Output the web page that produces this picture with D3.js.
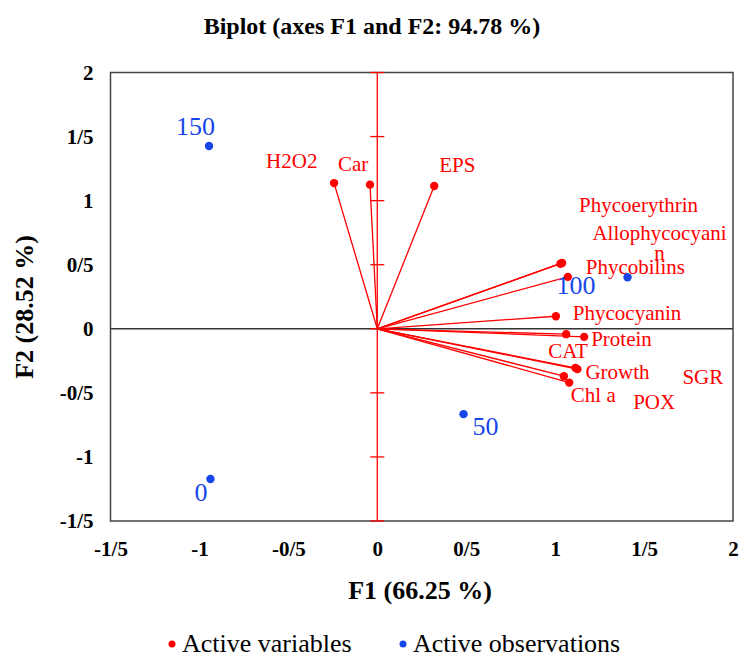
<!DOCTYPE html>
<html>
<head>
<meta charset="utf-8">
<script src="https://cdn.jsdelivr.net/npm/d3@7"></script>
<style>
  body { margin: 0; background: #fff; }
  svg { font-family: "Liberation Serif", "Times New Roman", serif; }
</style>
</head>
<body>
<svg width="739" height="658"></svg>
<script>
// variables (red) : F1 / F2 coordinates
const varNames = ["H2O2", "Car", "EPS", "Phycoerythrin", "Allophycocyanin", "Phycobilins",
  "Phycocyanin", "CAT", "Protein", "Growth", "SGR", "Chl a", "POX"];
const varF1 = [-0.243, -0.041, 0.320, 1.039, 1.030, 1.071, 1.004, 1.062, 1.163, 1.114, 1.125, 1.049, 1.079];
const varF2 = [1.137, 1.125, 1.114, 0.514, 0.508, 0.405, 0.098, -0.042, -0.063, -0.305, -0.315, -0.370, -0.420];

// observations (blue)
const obsNames = ["0", "50", "100", "150"];
const obsF1 = [-0.938, 0.485, 1.407, -0.946];
const obsF2 = [-1.172, -0.666, 0.402, 1.426];

// ticks
const tickValues = [-1.5, -1, -0.5, 0, 0.5, 1, 1.5, 2];
const tickLabels = ["-1/5", "-1", "-0/5", "0", "0/5", "1", "1/5", "2"];

// label placement (pixel offsets from the point, like the original layout)
const varLabelOffsets = [[-68, -15], [-32, -14], [5, -14], [17, -51], [32, -24], [18, -3],
  [17, 4], [-18, 24], [7, 9], [10, 11], [105, 15], [7, 26], [64, 26]];
const obsLabelOffsets = [[-16, 22], [9, 21], [-71, 17], [-33, -11]];

const svg = d3.select("svg");
const plotL = 110.5, plotR = 733, plotT = 72.5, plotB = 521;

const x = d3.scaleLinear().domain([-1.5, 2]).range([plotL, plotR]);
const y = d3.scaleLinear().domain([-1.5, 2]).range([plotB, plotT]);
const red = "#ff0000", blue = "#1746e8";

// title
svg.append("text")
  .attr("x", 372).attr("y", 34)
  .attr("text-anchor", "middle")
  .attr("font-size", 24).attr("font-weight", "bold")
  .text("Biplot (axes F1 and F2: 94.78 %)");

// frame
svg.append("rect")
  .attr("x", plotL).attr("y", plotT)
  .attr("width", plotR - plotL).attr("height", plotB - plotT)
  .attr("fill", "none").attr("stroke", "#444").attr("stroke-width", 1.5);

// tick labels on the frame
svg.append("g")
  .attr("transform", "translate(0," + plotB + ")")
  .call(d3.axisBottom(x).tickValues(tickValues).tickFormat((d, i) => tickLabels[i]).tickSize(0).tickPadding(20))
  .call(g => g.select(".domain").remove())
  .selectAll("text")
  .attr("font-family", "Liberation Serif").attr("font-size", 21).attr("font-weight", "bold").attr("fill", "#000");

svg.append("g")
  .attr("transform", "translate(" + plotL + ",0)")
  .call(d3.axisLeft(y).tickValues(tickValues).tickFormat((d, i) => tickLabels[i]).tickSize(0).tickPadding(17))
  .call(g => g.select(".domain").remove())
  .selectAll("text")
  .attr("font-family", "Liberation Serif").attr("font-size", 21).attr("font-weight", "bold").attr("fill", "#000");

// horizontal axis through origin
svg.append("line")
  .attr("x1", plotL).attr("x2", plotR)
  .attr("y1", y(0)).attr("y2", y(0))
  .attr("stroke", "#333").attr("stroke-width", 1.5);

// vertical red axis through origin with ticks
svg.append("line")
  .attr("x1", x(0)).attr("x2", x(0))
  .attr("y1", plotT).attr("y2", plotB)
  .attr("stroke", red).attr("stroke-width", 1.3);
svg.append("g").selectAll("line")
  .data(tickValues)
  .join("line")
  .attr("x1", x(0) - 7).attr("x2", x(0) + 7)
  .attr("y1", d => y(d)).attr("y2", d => y(d))
  .attr("stroke", red).attr("stroke-width", 1.3);

// variable vectors
const vars = varNames.map((n, i) => ({ name: n, f1: varF1[i], f2: varF2[i], off: varLabelOffsets[i] }));

svg.append("g").selectAll("line")
  .data(vars)
  .join("line")
  .attr("x1", x(0)).attr("y1", y(0))
  .attr("x2", d => x(d.f1)).attr("y2", d => y(d.f2))
  .attr("stroke", red).attr("stroke-width", 1.3);

svg.append("g").selectAll("circle")
  .data(vars)
  .join("circle")
  .attr("cx", d => x(d.f1)).attr("cy", d => y(d.f2))
  .attr("r", 4.2).attr("fill", red);

const varText = svg.append("g").selectAll("text")
  .data(vars)
  .join("text")
  .attr("x", d => x(d.f1) + d.off[0]).attr("y", d => y(d.f2) + d.off[1])
  .attr("font-size", 21).attr("fill", red);

// long label wraps like the original
varText.each(function (d) {
  const t = d3.select(this);
  if (d.name === "Allophycocyanin") {
    const cx = x(d.f1) + d.off[0] + 67;
    t.attr("text-anchor", "middle");
    t.append("tspan").attr("x", cx).text("Allophycocyani");
    t.append("tspan").attr("x", cx).attr("dy", 20).text("n");
  } else {
    t.text(d.name);
  }
});

// observations
const obs = obsNames.map((n, i) => ({ name: n, f1: obsF1[i], f2: obsF2[i], off: obsLabelOffsets[i] }));

svg.append("g").selectAll("circle")
  .data(obs)
  .join("circle")
  .attr("cx", d => x(d.f1)).attr("cy", d => y(d.f2))
  .attr("r", 4.2).attr("fill", blue);

svg.append("g").selectAll("text")
  .data(obs)
  .join("text")
  .attr("x", d => x(d.f1) + d.off[0]).attr("y", d => y(d.f2) + d.off[1])
  .attr("font-size", 26).attr("fill", blue)
  .text(d => d.name);

// axis titles
svg.append("text")
  .attr("x", 420).attr("y", 599)
  .attr("text-anchor", "middle")
  .attr("font-size", 26).attr("font-weight", "bold")
  .text("F1 (66.25 %)");

svg.append("text")
  .attr("transform", "translate(33,307) rotate(-90)")
  .attr("text-anchor", "middle")
  .attr("font-size", 26).attr("font-weight", "bold")
  .text("F2 (28.52 %)");

// legend
const legend = [{ label: "Active variables", color: red, x: 172 }, { label: "Active observations", color: blue, x: 403 }];
const lg = svg.append("g").selectAll("g")
  .data(legend)
  .join("g")
  .attr("transform", d => "translate(" + d.x + ",644)");
lg.append("circle").attr("r", 3.5).attr("fill", d => d.color);
lg.append("text")
  .attr("x", 10).attr("y", 8)
  .attr("font-size", 26).attr("fill", "#000")
  .text(d => d.label);
</script>
</body>
</html>
